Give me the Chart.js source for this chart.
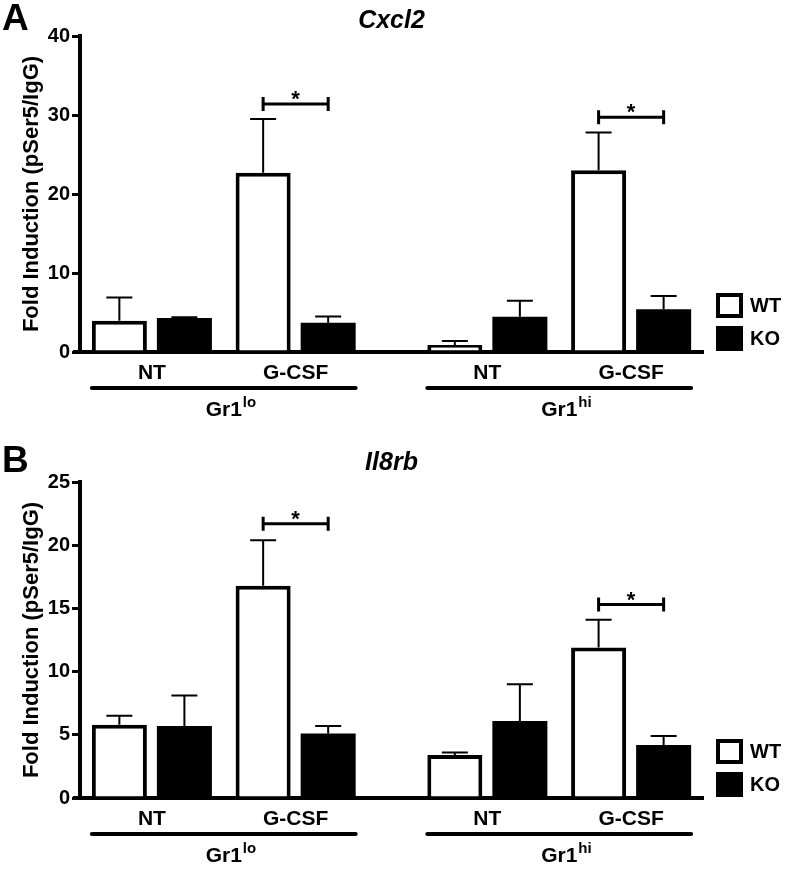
<!DOCTYPE html>
<html>
<head>
<meta charset="utf-8">
<script src="https://cdn.jsdelivr.net/npm/chart.js@4.4.1/dist/chart.umd.min.js"></script>
<style>
  html, body { margin: 0; padding: 0; background: #fff; overflow: hidden; }
  #wrapA { position: absolute; left: 0; top: 0; width: 788px; height: 442px; }
  #wrapB { position: absolute; left: 0; top: 446px; width: 788px; height: 436px; }
</style>
</head>
<body>
<div id="wrapA"><canvas id="chartA"></canvas></div>
<div id="wrapB"><canvas id="chartB"></canvas></div>
<script>
// --- data ---
const categories = ["NT", "G-CSF", "NT", "G-CSF"];
const groupOf = [0, 0, 1, 1];
const groupNames = ["Gr1", "Gr1"];
const groupSup = ["lo", "hi"];
const seriesNames = ["WT", "KO"];

// Cxcl2
const cxcl2WT = [3.95, 22.7, 0.9, 23.0];
const cxcl2WTErr = [2.95, 6.8, 0.5, 4.8];
const cxcl2KO = [4.3, 3.7, 4.45, 5.4];
const cxcl2KOErr = [0.1, 0.8, 2.05, 1.7];
const cxcl2Sig = [31.4, 29.7];
const cxcl2Ticks = [0, 10, 20, 30, 40];

// Il8rb
const il8rbWT = [5.8, 16.8, 3.4, 11.9];
const il8rbWTErr = [0.7, 3.6, 0.2, 2.2];
const il8rbKO = [5.7, 5.1, 6.1, 4.2];
const il8rbKOErr = [2.4, 0.6, 2.9, 0.7];
const il8rbSig = [21.7, 15.3];
const il8rbTicks = [0, 5, 10, 15, 20, 25];

// --- layout ---
const FONT = "'Liberation Sans', Arial, Helvetica, sans-serif";
const SLOTS = 13;
const pairSlot = [1, 4, 8, 11]; // category slot of each NT / G-CSF pair

function slotData(values) {
  const out = new Array(SLOTS).fill(null);
  values.forEach((v, i) => { out[pairSlot[i]] = v; });
  return out;
}

function slotLabels() {
  const out = new Array(SLOTS).fill("");
  categories.forEach((c, i) => { out[pairSlot[i]] = c; });
  return out;
}

function overlay(p) {
  return {
    id: "overlay",
    afterDatasetsDraw(chart) {
      const { ctx, chartArea, scales: { y } } = chart;
      const metas = [chart.getDatasetMeta(0), chart.getDatasetMeta(1)];
      const errs = [p.wtErr, p.koErr];
      const vals = [p.wt, p.ko];
      ctx.save();
      ctx.strokeStyle = "#000";
      ctx.fillStyle = "#000";

      // x axis runs a little past the y axis, as in the figure
      ctx.lineWidth = 4;
      ctx.beginPath();
      ctx.moveTo(chartArea.left - 7, chartArea.bottom);
      ctx.lineTo(chartArea.left, chartArea.bottom);
      ctx.stroke();

      // error bars (upper only)
      metas.forEach((meta, d) => {
        categories.forEach((c, k) => {
          const bar = meta.data[pairSlot[k]];
          const yTop = y.getPixelForValue(vals[d][k] + errs[d][k]);
          ctx.lineWidth = 2;
          ctx.beginPath();
          ctx.moveTo(bar.x, bar.y);
          ctx.lineTo(bar.x, yTop);
          ctx.moveTo(bar.x - 13, yTop);
          ctx.lineTo(bar.x + 13, yTop);
          ctx.stroke();
        });
      });

      // significance brackets over G-CSF pairs
      p.sig.forEach((s, g) => {
        const k = g * 2 + 1;
        const x1 = metas[0].data[pairSlot[k]].x;
        const x2 = metas[1].data[pairSlot[k]].x;
        const yy = y.getPixelForValue(s);
        ctx.lineWidth = 3;
        ctx.beginPath();
        ctx.moveTo(x1, yy); ctx.lineTo(x2, yy);
        ctx.moveTo(x1, yy - 7); ctx.lineTo(x1, yy + 7);
        ctx.moveTo(x2, yy - 7); ctx.lineTo(x2, yy + 7);
        ctx.stroke();
        ctx.font = "bold 22px " + FONT;
        ctx.textAlign = "center";
        ctx.textBaseline = "alphabetic";
        ctx.fillText("*", (x1 + x2) / 2, yy + 2);
      });

      // group underline + label
      groupNames.forEach((name, g) => {
        const ks = categories.map((c, i) => i).filter(i => groupOf[i] === g);
        const first = metas[0].data[pairSlot[ks[0]]];
        const last = metas[1].data[pairSlot[ks[ks.length - 1]]];
        const left = first.x - first.width / 2;
        const right = last.x + last.width / 2;
        const ly = chartArea.bottom + 36;
        ctx.lineWidth = 4;
        ctx.lineCap = "round";
        ctx.beginPath();
        ctx.moveTo(left, ly); ctx.lineTo(right, ly);
        ctx.stroke();
        ctx.lineCap = "butt";
        const cx = (left + right) / 2;
        ctx.font = "bold 21px " + FONT;
        ctx.textBaseline = "middle";
        ctx.textAlign = "center";
        ctx.fillText(name, cx, chartArea.bottom + 58);
        const w = ctx.measureText(name).width;
        ctx.font = "bold 15px " + FONT;
        ctx.textAlign = "left";
        ctx.fillText(groupSup[g], cx + w / 2 + 1, chartArea.bottom + 51);
      });

      // legend
      const bx = chartArea.right + 13;
      const koY = chartArea.bottom - 26;
      const wtY = koY - 33;
      ctx.lineWidth = 4;
      ctx.strokeRect(bx + 2, wtY + 2, 23, 21);
      ctx.fillRect(bx, koY, 27, 25);
      ctx.font = "bold 20px " + FONT;
      ctx.textAlign = "left";
      ctx.textBaseline = "middle";
      ctx.fillText(seriesNames[0], bx + 34, wtY + 13);
      ctx.fillText(seriesNames[1], bx + 34, koY + 13);

      // panel letter
      ctx.font = "bold 37px " + FONT;
      ctx.textBaseline = "alphabetic";
      ctx.fillText(p.letter, 2, p.letterY);
      ctx.restore();
    }
  };
}

function makePanel(id, p) {
  const ticks = p.ticks;
  return new Chart(document.getElementById(id), {
    type: "bar",
    data: {
      labels: slotLabels(),
      datasets: [
        {
          label: seriesNames[0],
          data: slotData(p.wt),
          backgroundColor: "#fff",
          borderColor: "#000",
          borderWidth: 4,
          categoryPercentage: 2.714,
          barPercentage: 0.846,
        },
        {
          label: seriesNames[1],
          data: slotData(p.ko),
          backgroundColor: "#000",
          borderColor: "#000",
          borderWidth: 0,
          categoryPercentage: 2.714,
          barPercentage: 0.846,
        },
      ],
    },
    options: {
      responsive: true,
      maintainAspectRatio: false,
      animation: false,
      layout: { padding: { left: 0, right: 85, top: 0, bottom: 0 } },
      plugins: {
        legend: { display: false },
        tooltip: { enabled: false },
        title: {
          display: true,
          fullSize: false,
          text: p.title,
          color: "#000",
          font: { family: FONT, size: 25, weight: "bold", style: "italic" },
          padding: p.titlePad,
        },
      },
      scales: {
        x: {
          grid: { display: false, drawTicks: false },
          border: { color: "#000", width: 4 },
          ticks: {
            autoSkip: false,
            maxRotation: 0,
            color: "#000",
            font: { family: FONT, size: 21, weight: "bold" },
            padding: 9,
          },
          afterFit: (s) => { s.height = p.xHeight; },
        },
        y: {
          min: ticks[0],
          max: ticks[ticks.length - 1],
          ticks: {
            stepSize: ticks[1] - ticks[0],
            color: "#000",
            font: { family: FONT, size: 20, weight: "bold" },
            padding: 2,
          },
          grid: { drawOnChartArea: false, drawTicks: true, tickLength: 8, lineWidth: 3, color: "#000" },
          border: { color: "#000", width: 4 },
          title: {
            display: true,
            text: "Fold Induction (pSer5/IgG)",
            color: "#000",
            font: { family: FONT, size: 22, weight: "bold" },
            padding: { top: 19, bottom: 0 },
          },
          afterFit: (s) => { s.width = 80; },
        },
      },
    },
    plugins: [overlay(p)],
  });
}

makePanel("chartA", {
  title: "Cxcl2", letter: "A", letterY: 30,
  wt: cxcl2WT, wtErr: cxcl2WTErr, ko: cxcl2KO, koErr: cxcl2KOErr,
  sig: cxcl2Sig, ticks: cxcl2Ticks,
  titlePad: { top: 6, bottom: 0 }, xHeight: 90,
});

makePanel("chartB", {
  title: "Il8rb", letter: "B", letterY: 26,
  wt: il8rbWT, wtErr: il8rbWTErr, ko: il8rbKO, koErr: il8rbKOErr,
  sig: il8rbSig, ticks: il8rbTicks,
  titlePad: { top: 2, bottom: 4 }, xHeight: 84,
});
</script>
</body>
</html>
